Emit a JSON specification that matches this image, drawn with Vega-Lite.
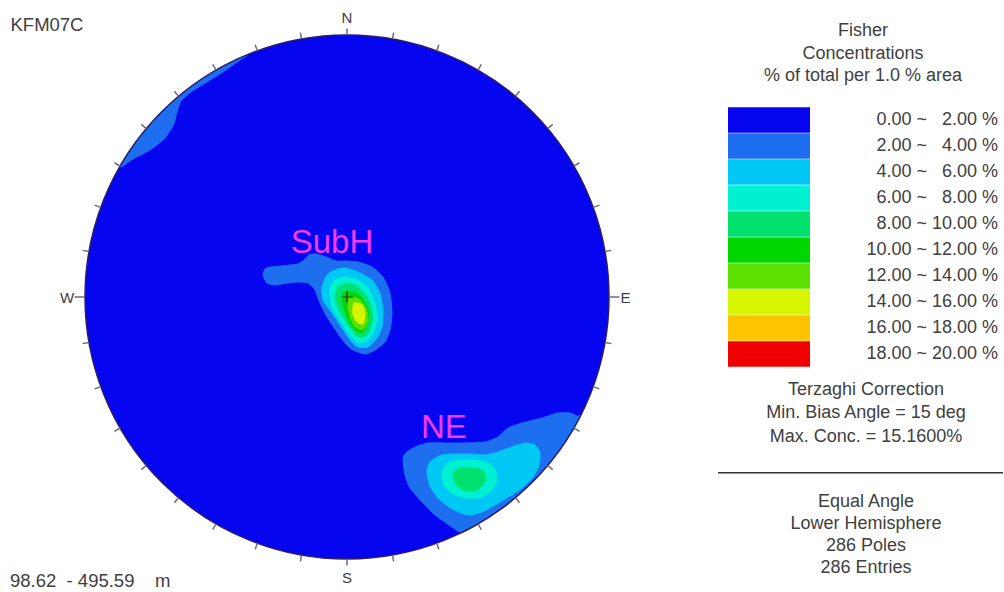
{
  "$schema": "https://vega.github.io/schema/vega-lite/v6.json",
  "width": 1004,
  "height": 592,
  "autosize": {"type": "none"},
  "padding": 0,
  "background": "white",
  "config": {
    "view": {"stroke": null},
    "axis": {"disable": true},
    "text": {"font": "Liberation Sans"}
  },
  "datasets": {
    "net": [{"band": "0.00 ~ 2.00 %", "x": 0, "y": 0}],
    "contours": [
      {"id": "p01", "band": "2.00 ~ 4.00 %", "i": 1, "x": -0.86603, "y": 0.5},
      {"id": "p01", "band": "2.00 ~ 4.00 %", "i": 2, "x": -0.81915, "y": 0.57358},
      {"id": "p01", "band": "2.00 ~ 4.00 %", "i": 3, "x": -0.76604, "y": 0.64279},
      {"id": "p01", "band": "2.00 ~ 4.00 %", "i": 4, "x": -0.70711, "y": 0.70711},
      {"id": "p01", "band": "2.00 ~ 4.00 %", "i": 5, "x": -0.64279, "y": 0.76604},
      {"id": "p01", "band": "2.00 ~ 4.00 %", "i": 6, "x": -0.57358, "y": 0.81915},
      {"id": "p01", "band": "2.00 ~ 4.00 %", "i": 7, "x": -0.5, "y": 0.86603},
      {"id": "p01", "band": "2.00 ~ 4.00 %", "i": 8, "x": -0.42262, "y": 0.90631},
      {"id": "p01", "band": "2.00 ~ 4.00 %", "i": 9, "x": -0.37461, "y": 0.92718},
      {"id": "p01", "band": "2.00 ~ 4.00 %", "i": 10, "x": -0.3893, "y": 0.916},
      {"id": "p01", "band": "2.00 ~ 4.00 %", "i": 11, "x": -0.4198, "y": 0.8969},
      {"id": "p01", "band": "2.00 ~ 4.00 %", "i": 12, "x": -0.4733, "y": 0.8588},
      {"id": "p01", "band": "2.00 ~ 4.00 %", "i": 13, "x": -0.5344, "y": 0.8206},
      {"id": "p01", "band": "2.00 ~ 4.00 %", "i": 14, "x": -0.5954, "y": 0.7824},
      {"id": "p01", "band": "2.00 ~ 4.00 %", "i": 15, "x": -0.6336, "y": 0.7481},
      {"id": "p01", "band": "2.00 ~ 4.00 %", "i": 16, "x": -0.6489, "y": 0.7061},
      {"id": "p01", "band": "2.00 ~ 4.00 %", "i": 17, "x": -0.6641, "y": 0.6527},
      {"id": "p01", "band": "2.00 ~ 4.00 %", "i": 18, "x": -0.6985, "y": 0.6031},
      {"id": "p01", "band": "2.00 ~ 4.00 %", "i": 19, "x": -0.7519, "y": 0.5611},
      {"id": "p01", "band": "2.00 ~ 4.00 %", "i": 20, "x": -0.8168, "y": 0.5267},
      {"id": "p01", "band": "2.00 ~ 4.00 %", "i": 21, "x": -0.855, "y": 0.5},

      {"id": "p02", "band": "2.00 ~ 4.00 %", "i": 1, "x": -0.3206, "y": 0.084},
      {"id": "p02", "band": "2.00 ~ 4.00 %", "i": 2, "x": -0.3092, "y": 0.1107},
      {"id": "p02", "band": "2.00 ~ 4.00 %", "i": 3, "x": -0.2519, "y": 0.1183},
      {"id": "p02", "band": "2.00 ~ 4.00 %", "i": 4, "x": -0.187, "y": 0.126},
      {"id": "p02", "band": "2.00 ~ 4.00 %", "i": 5, "x": -0.1603, "y": 0.145},
      {"id": "p02", "band": "2.00 ~ 4.00 %", "i": 6, "x": -0.145, "y": 0.1603},
      {"id": "p02", "band": "2.00 ~ 4.00 %", "i": 7, "x": -0.1183, "y": 0.1641},
      {"id": "p02", "band": "2.00 ~ 4.00 %", "i": 8, "x": -0.0802, "y": 0.1527},
      {"id": "p02", "band": "2.00 ~ 4.00 %", "i": 9, "x": -0.042, "y": 0.1374},
      {"id": "p02", "band": "2.00 ~ 4.00 %", "i": 10, "x": -0.0038, "y": 0.1374},
      {"id": "p02", "band": "2.00 ~ 4.00 %", "i": 11, "x": 0.042, "y": 0.1336},
      {"id": "p02", "band": "2.00 ~ 4.00 %", "i": 12, "x": 0.0954, "y": 0.1145},
      {"id": "p02", "band": "2.00 ~ 4.00 %", "i": 13, "x": 0.1374, "y": 0.0763},
      {"id": "p02", "band": "2.00 ~ 4.00 %", "i": 14, "x": 0.1641, "y": 0.0153},
      {"id": "p02", "band": "2.00 ~ 4.00 %", "i": 15, "x": 0.1718, "y": -0.0611},
      {"id": "p02", "band": "2.00 ~ 4.00 %", "i": 16, "x": 0.1641, "y": -0.126},
      {"id": "p02", "band": "2.00 ~ 4.00 %", "i": 17, "x": 0.145, "y": -0.1718},
      {"id": "p02", "band": "2.00 ~ 4.00 %", "i": 18, "x": 0.1069, "y": -0.2023},
      {"id": "p02", "band": "2.00 ~ 4.00 %", "i": 19, "x": 0.0687, "y": -0.2176},
      {"id": "p02", "band": "2.00 ~ 4.00 %", "i": 20, "x": 0.0229, "y": -0.2023},
      {"id": "p02", "band": "2.00 ~ 4.00 %", "i": 21, "x": -0.0076, "y": -0.1756},
      {"id": "p02", "band": "2.00 ~ 4.00 %", "i": 22, "x": -0.0382, "y": -0.1336},
      {"id": "p02", "band": "2.00 ~ 4.00 %", "i": 23, "x": -0.0763, "y": -0.0763},
      {"id": "p02", "band": "2.00 ~ 4.00 %", "i": 24, "x": -0.1031, "y": -0.0229},
      {"id": "p02", "band": "2.00 ~ 4.00 %", "i": 25, "x": -0.1221, "y": 0.0267},
      {"id": "p02", "band": "2.00 ~ 4.00 %", "i": 26, "x": -0.1489, "y": 0.0534},
      {"id": "p02", "band": "2.00 ~ 4.00 %", "i": 27, "x": -0.187, "y": 0.0573},
      {"id": "p02", "band": "2.00 ~ 4.00 %", "i": 28, "x": -0.2252, "y": 0.0534},
      {"id": "p02", "band": "2.00 ~ 4.00 %", "i": 29, "x": -0.2748, "y": 0.0458},
      {"id": "p02", "band": "2.00 ~ 4.00 %", "i": 30, "x": -0.3053, "y": 0.0534},

      {"id": "p03", "band": "4.00 ~ 6.00 %", "i": 1, "x": -0.0458, "y": 0.1031},
      {"id": "p03", "band": "4.00 ~ 6.00 %", "i": 2, "x": -0.0076, "y": 0.1107},
      {"id": "p03", "band": "4.00 ~ 6.00 %", "i": 3, "x": 0.042, "y": 0.0954},
      {"id": "p03", "band": "4.00 ~ 6.00 %", "i": 4, "x": 0.0954, "y": 0.0649},
      {"id": "p03", "band": "4.00 ~ 6.00 %", "i": 5, "x": 0.126, "y": 0.0153},
      {"id": "p03", "band": "4.00 ~ 6.00 %", "i": 6, "x": 0.1374, "y": -0.0496},
      {"id": "p03", "band": "4.00 ~ 6.00 %", "i": 7, "x": 0.1336, "y": -0.1145},
      {"id": "p03", "band": "4.00 ~ 6.00 %", "i": 8, "x": 0.1145, "y": -0.1565},
      {"id": "p03", "band": "4.00 ~ 6.00 %", "i": 9, "x": 0.0802, "y": -0.1908},
      {"id": "p03", "band": "4.00 ~ 6.00 %", "i": 10, "x": 0.042, "y": -0.1908},
      {"id": "p03", "band": "4.00 ~ 6.00 %", "i": 11, "x": 0.0115, "y": -0.1641},
      {"id": "p03", "band": "4.00 ~ 6.00 %", "i": 12, "x": -0.0191, "y": -0.1183},
      {"id": "p03", "band": "4.00 ~ 6.00 %", "i": 13, "x": -0.0573, "y": -0.0611},
      {"id": "p03", "band": "4.00 ~ 6.00 %", "i": 14, "x": -0.0916, "y": -0.0115},
      {"id": "p03", "band": "4.00 ~ 6.00 %", "i": 15, "x": -0.0954, "y": 0.0382},
      {"id": "p03", "band": "4.00 ~ 6.00 %", "i": 16, "x": -0.0763, "y": 0.084},

      {"id": "p04", "band": "6.00 ~ 8.00 %", "i": 1, "x": -0.0458, "y": 0.0649},
      {"id": "p04", "band": "6.00 ~ 8.00 %", "i": 2, "x": -0.0076, "y": 0.0763},
      {"id": "p04", "band": "6.00 ~ 8.00 %", "i": 3, "x": 0.042, "y": 0.0649},
      {"id": "p04", "band": "6.00 ~ 8.00 %", "i": 4, "x": 0.0802, "y": 0.0344},
      {"id": "p04", "band": "6.00 ~ 8.00 %", "i": 5, "x": 0.1069, "y": -0.0229},
      {"id": "p04", "band": "6.00 ~ 8.00 %", "i": 6, "x": 0.1145, "y": -0.0878},
      {"id": "p04", "band": "6.00 ~ 8.00 %", "i": 7, "x": 0.0992, "y": -0.1374},
      {"id": "p04", "band": "6.00 ~ 8.00 %", "i": 8, "x": 0.0687, "y": -0.1718},
      {"id": "p04", "band": "6.00 ~ 8.00 %", "i": 9, "x": 0.0382, "y": -0.1718},
      {"id": "p04", "band": "6.00 ~ 8.00 %", "i": 10, "x": 0.0115, "y": -0.145},
      {"id": "p04", "band": "6.00 ~ 8.00 %", "i": 11, "x": -0.0191, "y": -0.0992},
      {"id": "p04", "band": "6.00 ~ 8.00 %", "i": 12, "x": -0.0534, "y": -0.0496},
      {"id": "p04", "band": "6.00 ~ 8.00 %", "i": 13, "x": -0.0649, "y": 0},
      {"id": "p04", "band": "6.00 ~ 8.00 %", "i": 14, "x": -0.0649, "y": 0.0382},

      {"id": "p05", "band": "8.00 ~ 10.00 %", "i": 1, "x": -0.0344, "y": 0.0382},
      {"id": "p05", "band": "8.00 ~ 10.00 %", "i": 2, "x": 0.0038, "y": 0.0534},
      {"id": "p05", "band": "8.00 ~ 10.00 %", "i": 3, "x": 0.042, "y": 0.0382},
      {"id": "p05", "band": "8.00 ~ 10.00 %", "i": 4, "x": 0.0763, "y": 0},
      {"id": "p05", "band": "8.00 ~ 10.00 %", "i": 5, "x": 0.0954, "y": -0.0496},
      {"id": "p05", "band": "8.00 ~ 10.00 %", "i": 6, "x": 0.0954, "y": -0.0992},
      {"id": "p05", "band": "8.00 ~ 10.00 %", "i": 7, "x": 0.0763, "y": -0.145},
      {"id": "p05", "band": "8.00 ~ 10.00 %", "i": 8, "x": 0.042, "y": -0.1527},
      {"id": "p05", "band": "8.00 ~ 10.00 %", "i": 9, "x": 0.0191, "y": -0.126},
      {"id": "p05", "band": "8.00 ~ 10.00 %", "i": 10, "x": -0.0076, "y": -0.0878},
      {"id": "p05", "band": "8.00 ~ 10.00 %", "i": 11, "x": -0.0344, "y": -0.042},
      {"id": "p05", "band": "8.00 ~ 10.00 %", "i": 12, "x": -0.0458, "y": 0},

      {"id": "p06", "band": "10.00 ~ 12.00 %", "i": 1, "x": -0.0153, "y": 0.0153},
      {"id": "p06", "band": "10.00 ~ 12.00 %", "i": 2, "x": 0.0229, "y": 0.0191},
      {"id": "p06", "band": "10.00 ~ 12.00 %", "i": 3, "x": 0.0573, "y": -0.0038},
      {"id": "p06", "band": "10.00 ~ 12.00 %", "i": 4, "x": 0.0802, "y": -0.0496},
      {"id": "p06", "band": "10.00 ~ 12.00 %", "i": 5, "x": 0.0802, "y": -0.0992},
      {"id": "p06", "band": "10.00 ~ 12.00 %", "i": 6, "x": 0.0611, "y": -0.1336},
      {"id": "p06", "band": "10.00 ~ 12.00 %", "i": 7, "x": 0.0382, "y": -0.1336},
      {"id": "p06", "band": "10.00 ~ 12.00 %", "i": 8, "x": 0.0115, "y": -0.0992},
      {"id": "p06", "band": "10.00 ~ 12.00 %", "i": 9, "x": -0.0076, "y": -0.0573},
      {"id": "p06", "band": "10.00 ~ 12.00 %", "i": 10, "x": -0.0191, "y": -0.0191},

      {"id": "p07", "band": "12.00 ~ 14.00 %", "i": 1, "x": 0.0078, "y": -0.0053},
      {"id": "p07", "band": "12.00 ~ 14.00 %", "i": 2, "x": 0.042, "y": -0.0053},
      {"id": "p07", "band": "12.00 ~ 14.00 %", "i": 3, "x": 0.0719, "y": -0.0395},
      {"id": "p07", "band": "12.00 ~ 14.00 %", "i": 4, "x": 0.0804, "y": -0.0908},
      {"id": "p07", "band": "12.00 ~ 14.00 %", "i": 5, "x": 0.0591, "y": -0.1249},
      {"id": "p07", "band": "12.00 ~ 14.00 %", "i": 6, "x": 0.0291, "y": -0.1122},
      {"id": "p07", "band": "12.00 ~ 14.00 %", "i": 7, "x": 0.0121, "y": -0.0779},
      {"id": "p07", "band": "12.00 ~ 14.00 %", "i": 8, "x": 0.0035, "y": -0.0395},

      {"id": "p08", "band": "14.00 ~ 16.00 %", "i": 1, "x": 0.0266, "y": -0.0224},
      {"id": "p08", "band": "14.00 ~ 16.00 %", "i": 2, "x": 0.0601, "y": -0.032},
      {"id": "p08", "band": "14.00 ~ 16.00 %", "i": 3, "x": 0.0696, "y": -0.0701},
      {"id": "p08", "band": "14.00 ~ 16.00 %", "i": 4, "x": 0.0601, "y": -0.1035},
      {"id": "p08", "band": "14.00 ~ 16.00 %", "i": 5, "x": 0.0363, "y": -0.094},
      {"id": "p08", "band": "14.00 ~ 16.00 %", "i": 6, "x": 0.0219, "y": -0.0607},

      {"id": "p09", "band": "2.00 ~ 4.00 %", "i": 1, "x": 0.43837, "y": -0.89879},
      {"id": "p09", "band": "2.00 ~ 4.00 %", "i": 2, "x": 0.4008, "y": -0.8779},
      {"id": "p09", "band": "2.00 ~ 4.00 %", "i": 3, "x": 0.3359, "y": -0.8321},
      {"id": "p09", "band": "2.00 ~ 4.00 %", "i": 4, "x": 0.2863, "y": -0.7824},
      {"id": "p09", "band": "2.00 ~ 4.00 %", "i": 5, "x": 0.2405, "y": -0.729},
      {"id": "p09", "band": "2.00 ~ 4.00 %", "i": 6, "x": 0.2214, "y": -0.6794},
      {"id": "p09", "band": "2.00 ~ 4.00 %", "i": 7, "x": 0.2137, "y": -0.6145},
      {"id": "p09", "band": "2.00 ~ 4.00 %", "i": 8, "x": 0.229, "y": -0.5916},
      {"id": "p09", "band": "2.00 ~ 4.00 %", "i": 9, "x": 0.2595, "y": -0.5725},
      {"id": "p09", "band": "2.00 ~ 4.00 %", "i": 10, "x": 0.3092, "y": -0.5573},
      {"id": "p09", "band": "2.00 ~ 4.00 %", "i": 11, "x": 0.374, "y": -0.5573},
      {"id": "p09", "band": "2.00 ~ 4.00 %", "i": 12, "x": 0.4389, "y": -0.5573},
      {"id": "p09", "band": "2.00 ~ 4.00 %", "i": 13, "x": 0.5267, "y": -0.5534},
      {"id": "p09", "band": "2.00 ~ 4.00 %", "i": 14, "x": 0.5763, "y": -0.5344},
      {"id": "p09", "band": "2.00 ~ 4.00 %", "i": 15, "x": 0.6145, "y": -0.5},
      {"id": "p09", "band": "2.00 ~ 4.00 %", "i": 16, "x": 0.6679, "y": -0.4809},
      {"id": "p09", "band": "2.00 ~ 4.00 %", "i": 17, "x": 0.7443, "y": -0.4618},
      {"id": "p09", "band": "2.00 ~ 4.00 %", "i": 18, "x": 0.8053, "y": -0.4427},
      {"id": "p09", "band": "2.00 ~ 4.00 %", "i": 19, "x": 0.8511, "y": -0.4427},
      {"id": "p09", "band": "2.00 ~ 4.00 %", "i": 20, "x": 0.8779, "y": -0.4542},
      {"id": "p09", "band": "2.00 ~ 4.00 %", "i": 21, "x": 0.89101, "y": -0.45399},
      {"id": "p09", "band": "2.00 ~ 4.00 %", "i": 22, "x": 0.86603, "y": -0.5},
      {"id": "p09", "band": "2.00 ~ 4.00 %", "i": 23, "x": 0.81915, "y": -0.57358},
      {"id": "p09", "band": "2.00 ~ 4.00 %", "i": 24, "x": 0.76604, "y": -0.64279},
      {"id": "p09", "band": "2.00 ~ 4.00 %", "i": 25, "x": 0.70711, "y": -0.70711},
      {"id": "p09", "band": "2.00 ~ 4.00 %", "i": 26, "x": 0.64279, "y": -0.76604},
      {"id": "p09", "band": "2.00 ~ 4.00 %", "i": 27, "x": 0.57358, "y": -0.81915},
      {"id": "p09", "band": "2.00 ~ 4.00 %", "i": 28, "x": 0.5, "y": -0.86603},

      {"id": "p10", "band": "4.00 ~ 6.00 %", "i": 1, "x": 0.3626, "y": -0.6031},
      {"id": "p10", "band": "4.00 ~ 6.00 %", "i": 2, "x": 0.4122, "y": -0.5992},
      {"id": "p10", "band": "4.00 ~ 6.00 %", "i": 3, "x": 0.4771, "y": -0.5992},
      {"id": "p10", "band": "4.00 ~ 6.00 %", "i": 4, "x": 0.5267, "y": -0.6031},
      {"id": "p10", "band": "4.00 ~ 6.00 %", "i": 5, "x": 0.5763, "y": -0.5916},
      {"id": "p10", "band": "4.00 ~ 6.00 %", "i": 6, "x": 0.6298, "y": -0.5725},
      {"id": "p10", "band": "4.00 ~ 6.00 %", "i": 7, "x": 0.6794, "y": -0.5573},
      {"id": "p10", "band": "4.00 ~ 6.00 %", "i": 8, "x": 0.7176, "y": -0.5649},
      {"id": "p10", "band": "4.00 ~ 6.00 %", "i": 9, "x": 0.7366, "y": -0.5954},
      {"id": "p10", "band": "4.00 ~ 6.00 %", "i": 10, "x": 0.7328, "y": -0.6412},
      {"id": "p10", "band": "4.00 ~ 6.00 %", "i": 11, "x": 0.7099, "y": -0.687},
      {"id": "p10", "band": "4.00 ~ 6.00 %", "i": 12, "x": 0.6679, "y": -0.729},
      {"id": "p10", "band": "4.00 ~ 6.00 %", "i": 13, "x": 0.6145, "y": -0.7634},
      {"id": "p10", "band": "4.00 ~ 6.00 %", "i": 14, "x": 0.5649, "y": -0.7939},
      {"id": "p10", "band": "4.00 ~ 6.00 %", "i": 15, "x": 0.5153, "y": -0.8206},
      {"id": "p10", "band": "4.00 ~ 6.00 %", "i": 16, "x": 0.4618, "y": -0.8321},
      {"id": "p10", "band": "4.00 ~ 6.00 %", "i": 17, "x": 0.4008, "y": -0.8092},
      {"id": "p10", "band": "4.00 ~ 6.00 %", "i": 18, "x": 0.3473, "y": -0.7672},
      {"id": "p10", "band": "4.00 ~ 6.00 %", "i": 19, "x": 0.3168, "y": -0.7214},
      {"id": "p10", "band": "4.00 ~ 6.00 %", "i": 20, "x": 0.3053, "y": -0.6679},
      {"id": "p10", "band": "4.00 ~ 6.00 %", "i": 21, "x": 0.3168, "y": -0.6298},

      {"id": "p11", "band": "6.00 ~ 8.00 %", "i": 1, "x": 0.3931, "y": -0.6298},
      {"id": "p11", "band": "6.00 ~ 8.00 %", "i": 2, "x": 0.4313, "y": -0.6221},
      {"id": "p11", "band": "6.00 ~ 8.00 %", "i": 3, "x": 0.4885, "y": -0.6221},
      {"id": "p11", "band": "6.00 ~ 8.00 %", "i": 4, "x": 0.5382, "y": -0.6336},
      {"id": "p11", "band": "6.00 ~ 8.00 %", "i": 5, "x": 0.5649, "y": -0.6603},
      {"id": "p11", "band": "6.00 ~ 8.00 %", "i": 6, "x": 0.5725, "y": -0.6985},
      {"id": "p11", "band": "6.00 ~ 8.00 %", "i": 7, "x": 0.5534, "y": -0.7366},
      {"id": "p11", "band": "6.00 ~ 8.00 %", "i": 8, "x": 0.5153, "y": -0.7634},
      {"id": "p11", "band": "6.00 ~ 8.00 %", "i": 9, "x": 0.4618, "y": -0.7672},
      {"id": "p11", "band": "6.00 ~ 8.00 %", "i": 10, "x": 0.4122, "y": -0.7557},
      {"id": "p11", "band": "6.00 ~ 8.00 %", "i": 11, "x": 0.374, "y": -0.7252},
      {"id": "p11", "band": "6.00 ~ 8.00 %", "i": 12, "x": 0.3626, "y": -0.6794},
      {"id": "p11", "band": "6.00 ~ 8.00 %", "i": 13, "x": 0.374, "y": -0.645},

      {"id": "p12", "band": "8.00 ~ 10.00 %", "i": 1, "x": 0.4313, "y": -0.6527},
      {"id": "p12", "band": "8.00 ~ 10.00 %", "i": 2, "x": 0.4771, "y": -0.6527},
      {"id": "p12", "band": "8.00 ~ 10.00 %", "i": 3, "x": 0.5153, "y": -0.6603},
      {"id": "p12", "band": "8.00 ~ 10.00 %", "i": 4, "x": 0.5305, "y": -0.687},
      {"id": "p12", "band": "8.00 ~ 10.00 %", "i": 5, "x": 0.5191, "y": -0.7176},
      {"id": "p12", "band": "8.00 ~ 10.00 %", "i": 6, "x": 0.4885, "y": -0.7405},
      {"id": "p12", "band": "8.00 ~ 10.00 %", "i": 7, "x": 0.4427, "y": -0.7366},
      {"id": "p12", "band": "8.00 ~ 10.00 %", "i": 8, "x": 0.4122, "y": -0.7099},
      {"id": "p12", "band": "8.00 ~ 10.00 %", "i": 9, "x": 0.4046, "y": -0.6718}
    ],
    "ticks": [
      {"x": 0, "y": 1, "x2": 0, "y2": 1.025},
      {"x": 0.17365, "y": 0.98481, "x2": 0.17799, "y2": 1.00943},
      {"x": 0.34202, "y": 0.93969, "x2": 0.35057, "y2": 0.96318},
      {"x": 0.5, "y": 0.86603, "x2": 0.5125, "y2": 0.88768},
      {"x": 0.64279, "y": 0.76604, "x2": 0.65886, "y2": 0.78519},
      {"x": 0.76604, "y": 0.64279, "x2": 0.78519, "y2": 0.65886},
      {"x": 0.86603, "y": 0.5, "x2": 0.88768, "y2": 0.5125},
      {"x": 0.93969, "y": 0.34202, "x2": 0.96318, "y2": 0.35057},
      {"x": 0.98481, "y": 0.17365, "x2": 1.00943, "y2": 0.17799},
      {"x": 1, "y": 0, "x2": 1.04, "y2": 0},
      {"x": 0.98481, "y": -0.17365, "x2": 1.00943, "y2": -0.17799},
      {"x": 0.93969, "y": -0.34202, "x2": 0.96318, "y2": -0.35057},
      {"x": 0.86603, "y": -0.5, "x2": 0.88768, "y2": -0.5125},
      {"x": 0.76604, "y": -0.64279, "x2": 0.78519, "y2": -0.65886},
      {"x": 0.64279, "y": -0.76604, "x2": 0.65886, "y2": -0.78519},
      {"x": 0.5, "y": -0.86603, "x2": 0.5125, "y2": -0.88768},
      {"x": 0.34202, "y": -0.93969, "x2": 0.35057, "y2": -0.96318},
      {"x": 0.17365, "y": -0.98481, "x2": 0.17799, "y2": -1.00943},
      {"x": 0, "y": -1, "x2": 0, "y2": -1.025},
      {"x": -0.17365, "y": -0.98481, "x2": -0.17799, "y2": -1.00943},
      {"x": -0.34202, "y": -0.93969, "x2": -0.35057, "y2": -0.96318},
      {"x": -0.5, "y": -0.86603, "x2": -0.5125, "y2": -0.88768},
      {"x": -0.64279, "y": -0.76604, "x2": -0.65886, "y2": -0.78519},
      {"x": -0.76604, "y": -0.64279, "x2": -0.78519, "y2": -0.65886},
      {"x": -0.86603, "y": -0.5, "x2": -0.88768, "y2": -0.5125},
      {"x": -0.93969, "y": -0.34202, "x2": -0.96318, "y2": -0.35057},
      {"x": -0.98481, "y": -0.17365, "x2": -1.00943, "y2": -0.17799},
      {"x": -1, "y": 0, "x2": -1.04, "y2": 0},
      {"x": -0.98481, "y": 0.17365, "x2": -1.00943, "y2": 0.17799},
      {"x": -0.93969, "y": 0.34202, "x2": -0.96318, "y2": 0.35057},
      {"x": -0.86603, "y": 0.5, "x2": -0.88768, "y2": 0.5125},
      {"x": -0.76604, "y": 0.64279, "x2": -0.78519, "y2": 0.65886},
      {"x": -0.64279, "y": 0.76604, "x2": -0.65886, "y2": 0.78519},
      {"x": -0.5, "y": 0.86603, "x2": -0.5125, "y2": 0.88768},
      {"x": -0.34202, "y": 0.93969, "x2": -0.35057, "y2": 0.96318},
      {"x": -0.17365, "y": 0.98481, "x2": -0.17799, "y2": 1.00943}
    ],
    "compass": [
      {"text": "N", "x": 0, "y": 1.0447},
      {"text": "E", "x": 1.063, "y": -0.024},
      {"text": "S", "x": 0, "y": -1.0927},
      {"text": "W", "x": -1.0687, "y": -0.024}
    ],
    "sets": [
      {"text": "SubH", "x": -0.0573, "y": 0.1679},
      {"text": "NE", "x": 0.3695, "y": -0.5393}
    ],
    "notes": [
      {"text": "Terzaghi Correction", "x": 1.9809, "y": -0.374},
      {"text": "Min. Bias Angle = 15 deg", "x": 1.9809, "y": -0.463},
      {"text": "Max. Conc. = 15.1600%", "x": 1.9809, "y": -0.5523},
      {"text": "Equal Angle", "x": 1.9809, "y": -0.8004},
      {"text": "Lower Hemisphere", "x": 1.9809, "y": -0.8844},
      {"text": "286 Poles", "x": 1.9809, "y": -0.9695},
      {"text": "286 Entries", "x": 1.9809, "y": -1.0546}
    ],
    "corner": [
      {"text": "KFM07C", "x": -1.2844, "y": 1.0153},
      {"text": "98.62\u00a0\u00a0-\u00a0495.59\u00a0\u00a0\u00a0\u00a0m", "x": -1.2863, "y": -1.1057}
    ],
    "divider": [{"x": 1.416, "x2": 2.5038, "y": -0.6706}]
  },
  "encoding": {
    "x": {"field": "x", "type": "quantitative", "axis": null, "scale": {"domain": [-1.32443, 2.50763], "nice": false, "zero": false}},
    "y": {"field": "y", "type": "quantitative", "axis": null, "scale": {"domain": [-1.12595, 1.13359], "nice": false, "zero": false}}
  },
  "layer": [
    {
      "data": {"name": "net"},
      "mark": {"type": "point", "shape": "circle", "filled": true, "size": 274576, "opacity": 1, "strokeWidth": 0},
      "encoding": {
        "fill": {
          "field": "band", "type": "nominal",
          "scale": {
            "domain": ["0.00 ~ 2.00 %", "2.00 ~ 4.00 %", "4.00 ~ 6.00 %", "6.00 ~ 8.00 %", "8.00 ~ 10.00 %", "10.00 ~ 12.00 %", "12.00 ~ 14.00 %", "14.00 ~ 16.00 %", "16.00 ~ 18.00 %", "18.00 ~ 20.00 %"],
            "range": ["#0505F0", "#1E6EF0", "#00C8F5", "#00F0D2", "#00E16E", "#00D700", "#5AE100", "#D7F500", "#FFC300", "#F00000"]
          },
          "legend": {
            "orient": "none", "legendX": 728, "legendY": 22, "padding": 0,
            "title": ["Fisher", "Concentrations", "% of total per 1.0 % area"],
            "titleFont": "Liberation Sans", "titleFontSize": 18, "titleFontWeight": "normal", "titleColor": "#404040",
            "titleLineHeight": 22.5, "titleAnchor": "middle", "titleAlign": "center", "titlePadding": 26, "titleLimit": 400,
            "symbolType": "M-1,-1.4167H8.1111V1.4167H-1Z", "symbolSize": 324, "symbolStrokeWidth": 0, "symbolOpacity": 1,
            "rowPadding": 0, "labelOffset": 252, "labelAlign": "right", "labelLimit": 300,
            "labelFont": "Liberation Sans", "labelFontSize": 18, "labelColor": "#404040",
            "labelExpr": "length(split(datum.label, '~ ')[1]) < 7 ? replace(datum.label, '~ ', '~\u00a0\u00a0\u00a0') : datum.label"
          }
        }
      }
    },
    {
      "data": {"name": "contours"},
      "mark": {"type": "line", "interpolate": "cardinal-closed", "tension": 0.4, "strokeWidth": 1},
      "encoding": {
        "detail": {"field": "id", "type": "nominal"},
        "order": {"field": "i", "type": "quantitative"},
        "fill": {
          "field": "band", "type": "nominal", "legend": null,
          "scale": {
            "domain": ["0.00 ~ 2.00 %", "2.00 ~ 4.00 %", "4.00 ~ 6.00 %", "6.00 ~ 8.00 %", "8.00 ~ 10.00 %", "10.00 ~ 12.00 %", "12.00 ~ 14.00 %", "14.00 ~ 16.00 %", "16.00 ~ 18.00 %", "18.00 ~ 20.00 %"],
            "range": ["#0505F0", "#1E6EF0", "#00C8F5", "#00F0D2", "#00E16E", "#00D700", "#5AE100", "#D7F500", "#FFC300", "#F00000"]
          }
        },
        "stroke": {
          "field": "band", "type": "nominal", "legend": null,
          "scale": {
            "domain": ["0.00 ~ 2.00 %", "2.00 ~ 4.00 %", "4.00 ~ 6.00 %", "6.00 ~ 8.00 %", "8.00 ~ 10.00 %", "10.00 ~ 12.00 %", "12.00 ~ 14.00 %", "14.00 ~ 16.00 %", "16.00 ~ 18.00 %", "18.00 ~ 20.00 %"],
            "range": ["#0505F0", "#1E6EF0", "#00C8F5", "#00F0D2", "#00E16E", "#00D700", "#5AE100", "#D7F500", "#FFC300", "#F00000"]
          }
        }
      }
    },
    {
      "data": {"name": "net"},
      "mark": {"type": "point", "shape": "circle", "filled": false, "size": 274576, "opacity": 1, "stroke": "#2b1d6b", "strokeWidth": 1.5}
    },
    {
      "data": {"name": "ticks"},
      "mark": {"type": "rule", "stroke": "#6e6e6e", "strokeWidth": 1.5},
      "encoding": {"x2": {"field": "x2"}, "y2": {"field": "y2"}}
    },
    {
      "data": {"name": "net"},
      "mark": {"type": "point", "shape": "M-1,0H1M0,-1V1", "filled": false, "size": 144, "opacity": 1, "stroke": "#303030", "strokeWidth": 1.2}
    },
    {
      "data": {"name": "compass"},
      "mark": {"type": "text", "fontSize": 15, "color": "#404040", "align": "center", "baseline": "alphabetic"},
      "encoding": {"text": {"field": "text"}}
    },
    {
      "data": {"name": "sets"},
      "mark": {"type": "text", "fontSize": 33, "color": "#F03CF0", "align": "center", "baseline": "alphabetic"},
      "encoding": {"text": {"field": "text"}}
    },
    {
      "data": {"name": "notes"},
      "mark": {"type": "text", "fontSize": 18, "color": "#404040", "align": "center", "baseline": "alphabetic"},
      "encoding": {"text": {"field": "text"}}
    },
    {
      "data": {"name": "corner"},
      "mark": {"type": "text", "fontSize": 18.5, "color": "#404040", "align": "left", "baseline": "alphabetic"},
      "encoding": {"text": {"field": "text"}}
    },
    {
      "data": {"name": "divider"},
      "mark": {"type": "rule", "stroke": "#333333", "strokeWidth": 1.5},
      "encoding": {"x2": {"field": "x2"}}
    }
  ]
}
